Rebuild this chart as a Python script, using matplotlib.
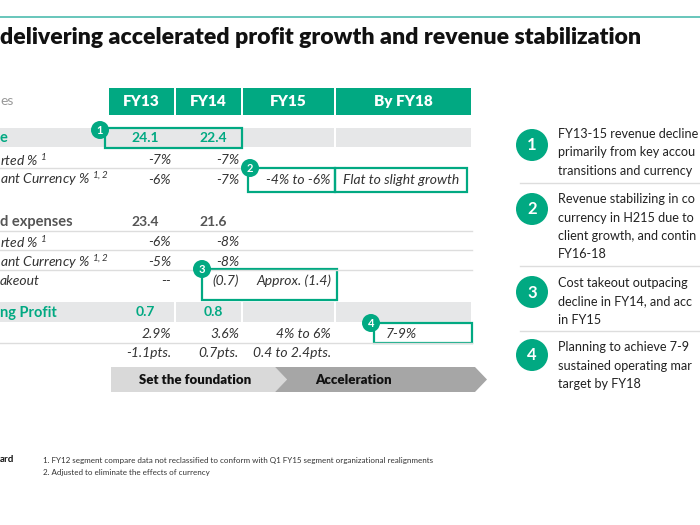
import matplotlib
matplotlib.use("Agg")
import matplotlib.pyplot as plt
from matplotlib.patches import Rectangle, Circle, Polygon

plt.rcParams['font.family'] = ['Lato', 'DejaVu Sans']
plt.rcParams['mathtext.fontset'] = 'custom'
plt.rcParams['mathtext.rm'] = 'Lato:italic'
plt.rcParams['mathtext.it'] = 'Lato:italic'

# ---------------- data ----------------
title = "delivering accelerated profit growth and revenue stabilization"
years = ["FY13", "FY14", "FY15", "By FY18"]
revenue = [24.1, 22.4]
rev_reported = ["-7%", "-7%"]
rev_cc = ["-6%", "-7%", "-4% to -6%", "Flat to slight growth"]
costs = [23.4, 21.6]
cost_reported = ["-6%", "-8%"]
cost_cc = ["-5%", "-8%"]
cost_takeout = ["--", "(0.7)", "Approx. (1.4)"]
op_profit = [0.7, 0.8]
op_margin = ["2.9%", "3.6%", "4% to 6%", "7-9%"]
margin_change = ["-1.1pts.", "0.7pts.", "0.4 to 2.4pts."]
phases = ["Set the foundation", "Acceleration"]
# right-hand notes, as far as they are visible in the slide crop
notes = [
    ["FY13-15 revenue decline", "primarily from key accou", "transitions and currency"],
    ["Revenue stabilizing in co", "currency in H215 due to", "client growth, and contin", "FY16-18"],
    ["Cost takeout outpacing", "decline in FY14, and acc", "in FY15"],
    ["Planning to achieve 7-9", "sustained operating mar", "target by FY18"],
]
footnotes = [
    "1. FY12 segment compare data not reclassified to conform with Q1 FY15 segment organizational realignments",
    "2. Adjusted to eliminate the effects of currency",
]

# ---------------- layout ----------------
GREEN = "#01A982"
TEAL = "#5cc1b5"
BAND = "#e6e7e8"
DARK = "#333333"
GREY = "#555555"

fig = plt.figure(figsize=(7, 5.25), dpi=100)
ax = fig.add_axes([0, 0, 1, 1])
ax.set_xlim(0, 700)
ax.set_ylim(525, 0)
ax.axis("off")

# top rule and title
ax.plot([0, 700], [17, 17], color=TEAL, lw=1.3)
ax.text(0, 38, title, fontsize=16.6, fontweight="heavy", color="#111111", va="center", ha="left")
ax.text(0, 101, "es", fontsize=10, color="#999999", va="center")

# column geometry
col_edges = [108, 175, 242, 335, 472]
col_center = [(col_edges[i] + col_edges[i + 1]) / 2 for i in range(4)]
col_right = [171, 239, 331]

# header
for i, y in enumerate(years):
    ax.add_patch(Rectangle((col_edges[i] + 1, 88), col_edges[i + 1] - col_edges[i] - 2, 27,
                           color=GREEN, lw=0))
    ax.text(col_center[i], 101.5, y, color="white", fontsize=11, fontweight="heavy",
            ha="center", va="center")

# grey bands
def band(y0, y1, edges):
    for a, b in zip(edges[:-1], edges[1:]):
        ax.add_patch(Rectangle((a + 1, y0), b - a - 2, y1 - y0, color=BAND, lw=0))

band(128, 147, [-2, 242, 335, 472])
band(302, 322, [-2, 175, 242, 335, 472])

# separator lines
for y, x1 in [(168, 242), (231, 472), (250, 472), (270, 472), (343, 472)]:
    ax.plot([0, x1], [y, y], color="#dddddd", lw=1)

# row labels
ax.text(0, 137.5, "e", color=GREEN, fontsize=10.5, fontweight="bold", va="center")
lab_it = dict(fontsize=10, color=DARK, style="italic", va="center", ha="left")
for y in (160, 242):
    ax.text(0, y, r"rted % $^{1}$", **lab_it)
for y in (179, 262):
    ax.text(0, y, r"ant Currency % $^{1,2}$", **lab_it)
ax.text(0, 281, "akeout", **lab_it)
ax.text(0, 222, "d expenses", fontsize=10.5, fontweight="bold", color=GREY, va="center")
ax.text(0, 312.5, "ng Profit", fontsize=10.5, fontweight="bold", color=GREEN, va="center")

num_centers = [145, 213]
for i, v in enumerate(revenue):
    ax.text(num_centers[i], 137.5, f"{v:.1f}", color=GREEN, fontsize=10, fontweight="bold",
            ha="center", va="center")
for i, v in enumerate(costs):
    ax.text(num_centers[i], 222, f"{v:.1f}", color=GREY, fontsize=10, fontweight="bold",
            ha="center", va="center")
for i, v in enumerate(op_profit):
    ax.text(num_centers[i], 312.5, f"{v:.1f}", color=GREEN, fontsize=10, fontweight="bold",
            ha="center", va="center")

val = dict(fontsize=10, color=DARK, style="italic", va="center", ha="right")
def row(values, y):
    for i, v in enumerate(values[:3]):
        ax.text(col_right[i], y, v, **val)
    if len(values) > 3:
        ax.text(col_center[3] - 2, y, values[3], fontsize=10, color=DARK, style="italic",
                va="center", ha="center")

row(rev_reported, 160)
row(rev_cc, 180)
row(cost_reported, 242)
row(cost_cc, 262)
row(cost_takeout, 281)
row(op_margin, 334)
row(margin_change, 353)

# callout boxes
def box(x0, y0, x1, y1):
    ax.add_patch(Rectangle((x0, y0), x1 - x0, y1 - y0, fill=False, ec=GREEN, lw=1.6))

def badge(x, y, n, r, fs):
    ax.add_patch(Circle((x, y), r, color=GREEN, lw=0, zorder=5))
    ax.text(x, y + 0.5, str(n), color="white", fontsize=fs, fontweight="bold",
            ha="center", va="center", zorder=6)

box(105, 128, 242, 148)
badge(100, 130, 1, 9, 8)
box(248, 168, 335, 192)
box(335, 168, 467, 192)
badge(250, 168, 2, 9, 8)
box(202, 269, 337, 300)
badge(202, 269, 3, 9, 8)
box(374, 323, 472, 343)
badge(371, 323, 4, 9, 8)

# phase arrow
ax.add_patch(Polygon([(111, 367), (275, 367), (287, 379.5), (275, 392), (111, 392)],
                     closed=True, color="#d9d9d9", lw=0))
ax.add_patch(Polygon([(275, 367), (475, 367), (487, 379.5), (475, 392), (275, 392), (287, 379.5)],
                     closed=True, color="#a6a6a6", lw=0))
ax.text(195, 380, phases[0], fontsize=9.5, fontweight="heavy", color="#111111", ha="center", va="center")
ax.text(353, 380, phases[1], fontsize=9.5, fontweight="heavy", color="#111111", ha="center", va="center")

# right panel
badge_y = [145, 209, 292, 355]
text_y0 = [134, 199, 283, 347]
for k, lines in enumerate(notes):
    badge(532, badge_y[k], k + 1, 16, 12)
    for j, ln in enumerate(lines):
        ax.text(558, text_y0[k] + j * 18.5, ln, fontsize=9.1, color="#222222",
                ha="left", va="center")
for y in (183, 266, 331):
    ax.plot([520, 700], [y, y], color="#dddddd", lw=1)

# footer
ax.text(0, 459, "ard", fontsize=7, fontweight="bold", color="#111111", va="center")
for j, fn in enumerate(footnotes):
    ax.text(43, 461 + j * 11, fn, fontsize=5.8, color="#333333", va="center")

fig.savefig("out.png", dpi=100)
